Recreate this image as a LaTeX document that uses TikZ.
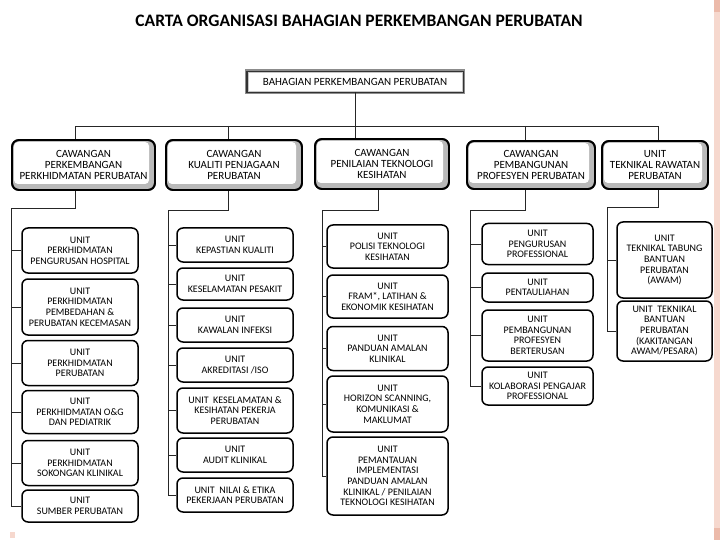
\documentclass[tikz,border=0pt]{standalone}
\usepackage{fontspec}
\setmainfont{Carlito}
\definecolor{edgepink}{RGB}{246,216,206}
\definecolor{deeppink}{RGB}{236,186,170}
\begin{document}
\begin{tikzpicture}[x=1pt,y=-1pt,
  conn/.style={draw=black!85, line width=0.9pt},
  unitbox/.style={draw=black, line width=1.5pt, rounded corners=6pt, fill=white, align=center, inner sep=0pt,
    font=\fontsize{10}{10.6}\selectfont},
  branchbox/.style={draw=black, line width=1.8pt, rounded corners=7pt, fill=gray!55, align=center, inner sep=0pt,
    font=\fontsize{11}{10.8}\selectfont,
    path picture={\fill[white, rounded corners=4pt]
      ([shift={(2pt,-2pt)}]path picture bounding box.north west) rectangle
      ([shift={(-6pt,6pt)}]path picture bounding box.south east);},
    postaction={draw=black, line width=1.8pt}},
  topbox/.style={fill=white, draw=gray!45, line width=0.8pt, inner sep=0pt, align=center,
    font=\fontsize{11}{12}\selectfont,
    preaction={draw=black!45, line width=6pt},
    preaction={draw=black!80, line width=3.5pt}},
  titletext/.style={font=\fontsize{17.5}{20}\selectfont\bfseries, inner sep=0pt}
]
\useasboundingbox (0,0) rectangle (720,540);
\fill[white] (0,0) rectangle (720,540);
\fill[edgepink] (714,0) rectangle (720,540);
\fill[deeppink] (714,0) rectangle (720,12);
\fill[deeppink] (714,528) rectangle (720,540);
\fill[edgepink] (10,532) rectangle (15,538);

\node[titletext] (title) at (359,21) {CARTA ORGANISASI BAHAGIAN PERKEMBANGAN PERUBATAN};

\node[topbox, minimum width=214pt, minimum height=19pt] (top) at (355,82) {BAHAGIAN PERKEMBANGAN PERUBATAN};

% branch boxes
\node[branchbox, minimum width=143pt, minimum height=50pt] (b1) at (83.5,165) {CAWANGAN\\PERKEMBANGAN\\PERKHIDMATAN PERUBATAN};
\node[branchbox, minimum width=136pt, minimum height=50pt] (b2) at (234,165) {CAWANGAN\\KUALITI PENJAGAAN\\PERUBATAN};
\node[branchbox, minimum width=134pt, minimum height=50pt] (b3) at (382,164) {CAWANGAN\\PENILAIAN TEKNOLOGI\\KESIHATAN};
\node[branchbox, minimum width=128pt, minimum height=48pt] (b4) at (531,165) {CAWANGAN\\PEMBANGUNAN\\PROFESYEN PERUBATAN};
\node[branchbox, minimum width=106pt, minimum height=48pt] (b5) at (655,165) {UNIT\\TEKNIKAL RAWATAN\\PERUBATAN};

% column 1
\node[unitbox, minimum width=116pt, minimum height=45pt] (a1) at (80,250.5) {UNIT\\PERKHIDMATAN\\PENGURUSAN HOSPITAL};
\node[unitbox, minimum width=116pt, minimum height=56pt] (a2) at (80,307) {UNIT\\PERKHIDMATAN\\PEMBEDAHAN \&\\PERUBATAN KECEMASAN};
\node[unitbox, minimum width=116pt, minimum height=45pt] (a3) at (80,363) {UNIT\\PERKHIDMATAN\\PERUBATAN};
\node[unitbox, minimum width=116pt, minimum height=43pt] (a4) at (80,412) {UNIT\\PERKHIDMATAN O\&G\\DAN PEDIATRIK};
\node[unitbox, minimum width=116pt, minimum height=45pt] (a5) at (80,463) {UNIT\\PERKHIDMATAN\\SOKONGAN KLINIKAL};
\node[unitbox, minimum width=116pt, minimum height=32pt] (a6) at (80,506) {UNIT\\SUMBER PERUBATAN};

% column 2
\node[unitbox, minimum width=116pt, minimum height=34pt] (q1) at (235,245) {UNIT\\KEPASTIAN KUALITI};
\node[unitbox, minimum width=116pt, minimum height=32pt] (q2) at (235,284) {UNIT\\KESELAMATAN PESAKIT};
\node[unitbox, minimum width=116pt, minimum height=34pt] (q3) at (235,325) {UNIT\\KAWALAN INFEKSI};
\node[unitbox, minimum width=116pt, minimum height=34pt] (q4) at (235,365) {UNIT\\AKREDITASI /ISO};
\node[unitbox, minimum width=116pt, minimum height=45pt] (q5) at (235,410.5) {UNIT\ \ KESELAMATAN \&\\KESIHATAN PEKERJA\\PERUBATAN};
\node[unitbox, minimum width=116pt, minimum height=34pt] (q6) at (235,455) {UNIT\\AUDIT KLINIKAL};
\node[unitbox, minimum width=116pt, minimum height=34pt] (q7) at (235,495) {UNIT\ \ NILAI \& ETIKA\\PEKERJAAN PERUBATAN};

% column 3
\node[unitbox, minimum width=121pt, minimum height=43pt] (r1) at (387.5,246.5) {UNIT\\POLISI TEKNOLOGI\\KESIHATAN};
\node[unitbox, minimum width=121pt, minimum height=43pt] (r2) at (387.5,296.5) {UNIT\\FRAM*, LATIHAN \&\\EKONOMIK KESIHATAN};
\node[unitbox, minimum width=121pt, minimum height=44pt] (r3) at (387.5,348.5) {UNIT\\PANDUAN AMALAN\\KLINIKAL};
\node[unitbox, minimum width=121pt, minimum height=56pt] (r4) at (387.5,404) {UNIT\\HORIZON SCANNING,\\KOMUNIKASI \&\\MAKLUMAT};
\node[unitbox, minimum width=121pt, minimum height=78pt] (r5) at (387.5,476) {UNIT\\PEMANTAUAN\\IMPLEMENTASI\\PANDUAN AMALAN\\KLINIKAL / PENILAIAN\\TEKNOLOGI KESIHATAN};

% column 4
\node[unitbox, minimum width=111pt, minimum height=41pt] (s1) at (537.5,244) {UNIT\\PENGURUSAN\\PROFESSIONAL};
\node[unitbox, minimum width=111pt, minimum height=29pt] (s2) at (537.5,287.5) {UNIT\\PENTAULIAHAN};
\node[unitbox, minimum width=111pt, minimum height=51pt] (s3) at (537.5,335.5) {UNIT\\PEMBANGUNAN\\PROFESYEN\\BERTERUSAN};
\node[unitbox, minimum width=111pt, minimum height=38pt] (s4) at (537.5,386) {UNIT\\KOLABORASI PENGAJAR\\PROFESSIONAL};

% column 5
\node[unitbox, minimum width=95pt, minimum height=76pt] (t1) at (664.5,260) {UNIT\\TEKNIKAL TABUNG\\BANTUAN\\PERUBATAN\\(AWAM)};
\node[unitbox, minimum width=95pt, minimum height=60pt] (t2) at (664.5,331) {UNIT\ \ TEKNIKAL\\BANTUAN\\PERUBATAN\\(KAKITANGAN\\AWAM/PESARA)};

% top level connectors
\coordinate (h1) at (75,126);
\coordinate (h2) at (228,126);
\coordinate (h4) at (525,126);
\coordinate (h5) at (658,126);
\draw[conn] (top.south) -- (top.south |- b3.north);
\draw[conn] (h1 |- b1.north) -- (h1) -- (h5) -- (h5 |- b5.north);
\draw[conn] (h2) -- (h2 |- b2.north);
\draw[conn] (h4) -- (h4 |- b4.north);

% column connectors
\coordinate (k1) at (75,208);  \coordinate (v1) at (11,208);
\draw[conn] (b1.south -| k1) -- (k1) -- (v1) -- (v1 |- a6.west) -- (a6.west);
\foreach \n in {a1,a2,a3,a4,a5} \draw[conn] (v1 |- \n.west) -- (\n.west);

\coordinate (k2) at (228,210); \coordinate (v2) at (168,210);
\draw[conn] (b2.south -| k2) -- (k2) -- (v2) -- (v2 |- q7.west) -- (q7.west);
\foreach \n in {q1,q2,q3,q4,q5,q6} \draw[conn] (v2 |- \n.west) -- (\n.west);

\coordinate (k3) at (378,210); \coordinate (v3) at (322,210);
\draw[conn] (b3.south -| k3) -- (k3) -- (v3) -- (v3 |- r5.west) -- (r5.west);
\foreach \n in {r1,r2,r3,r4} \draw[conn] (v3 |- \n.west) -- (\n.west);

\coordinate (k4) at (525,210); \coordinate (v4) at (470,210);
\draw[conn] (b4.south -| k4) -- (k4) -- (v4) -- (v4 |- s4.west) -- (s4.west);
\foreach \n in {s1,s2,s3} \draw[conn] (v4 |- \n.west) -- (\n.west);

\coordinate (k5) at (658,207); \coordinate (v5) at (607,207);
\draw[conn] (b5.south -| k5) -- (k5) -- (v5) -- (v5 |- t2.west) -- (t2.west);
\draw[conn] (v5 |- t1.west) -- (t1.west);
\end{tikzpicture}
\end{document}
